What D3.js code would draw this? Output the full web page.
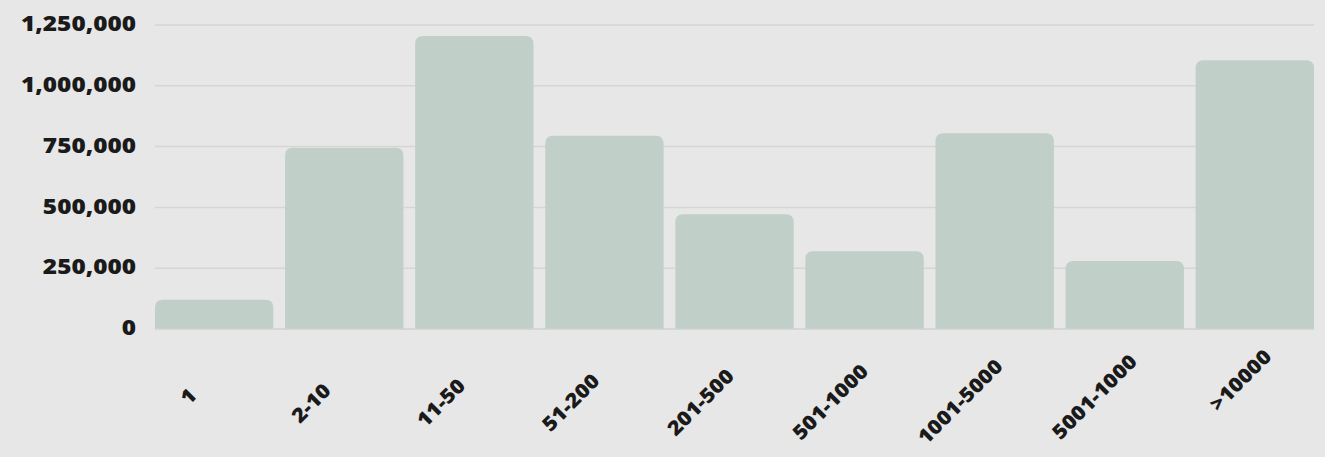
<!DOCTYPE html>
<html>
<head>
<meta charset="utf-8">
<script src="https://cdn.jsdelivr.net/npm/d3@7"></script>
<style>
  html, body { margin: 0; padding: 0; background: #e7e7e7; }
  svg { display: block; }
  text { font-family: "Open Sans", sans-serif; font-weight: 800; fill: #1a1a1a; }
</style>
</head>
<body>
<svg id="chart" width="1325" height="457"></svg>
<script>
const categories = ["1", "2-10", "11-50", "51-200", "201-500", "501-1000", "1001-5000", "5001-1000", ">10000"];
const values = [120000, 745000, 1205000, 795000, 472000, 320000, 805000, 280000, 1105000];
const yTicks = [0, 250000, 500000, 750000, 1000000, 1250000];

const W = 1325, H = 457;
const svg = d3.select("#chart");
svg.append("rect").attr("width", W).attr("height", H).attr("fill", "#e7e7e7");

const x = d3.scaleBand().domain(categories).range([155, 1314]).paddingInner(0.09).paddingOuter(0);
const y = d3.scaleLinear().domain([0, 1250000]).range([329, 25]);

// gridlines
svg.append("g").selectAll("line").data(yTicks.filter(d => d > 0)).join("line")
  .attr("x1", 155).attr("x2", 1314)
  .attr("y1", d => y(d)).attr("y2", d => y(d))
  .attr("stroke", "#d5d5d5").attr("stroke-width", 1.5);

// bars with rounded top corners
const r = 8;
function barPath(x0, y0, w, h) {
  const rr = Math.min(r, h, w / 2);
  return `M${x0},${y0 + h}V${y0 + rr}Q${x0},${y0} ${x0 + rr},${y0}H${x0 + w - rr}Q${x0 + w},${y0} ${x0 + w},${y0 + rr}V${y0 + h}Z`;
}
svg.append("g").selectAll("path").data(categories).join("path")
  .attr("d", (c, i) => barPath(x(c), y(values[i]), x.bandwidth(), y(0) - y(values[i])))
  .attr("fill", "#c0d0c8");

// baseline
svg.append("line").attr("x1", 155).attr("x2", 1314).attr("y1", y(0)).attr("y2", y(0))
  .attr("stroke", "#cdd3d0").attr("stroke-width", 1.5);

// y axis
const yAxis = svg.append("g").attr("transform", "translate(136,0)")
  .call(d3.axisLeft(y).tickValues(yTicks).tickSize(0).tickPadding(0).tickFormat(d3.format(",")));
yAxis.select(".domain").remove();
yAxis.selectAll("text")
  .attr("x", 0).attr("dy", "0.27em")
  .attr("transform", "scale(1.16,1)")
  .style("font-size", "21px").style("font-family", "'Open Sans', sans-serif").style("font-weight", 800)
  .attr("fill", "#1a1a1a");

// x axis (labels follow the slight upward drift seen in the reference)
const xAxis = svg.append("g")
  .call(d3.axisBottom(x).tickSize(0).tickPadding(0));
xAxis.select(".domain").remove();
xAxis.selectAll(".tick").attr("transform", d => {
  const c = x(d) + x.bandwidth() / 2;
  return `translate(${1.033 * c - 28.4},${399.9 - 0.0374 * c})`;
});
xAxis.selectAll("text")
  .attr("x", 0).attr("y", 0).attr("dy", "0.35em")
  .attr("text-anchor", "end")
  .attr("transform", "rotate(-45) scale(1.1,1)")
  .style("font-size", "20px").style("font-family", "'Open Sans', sans-serif").style("font-weight", 800)
  .attr("fill", "#1a1a1a");
</script>
</body>
</html>
